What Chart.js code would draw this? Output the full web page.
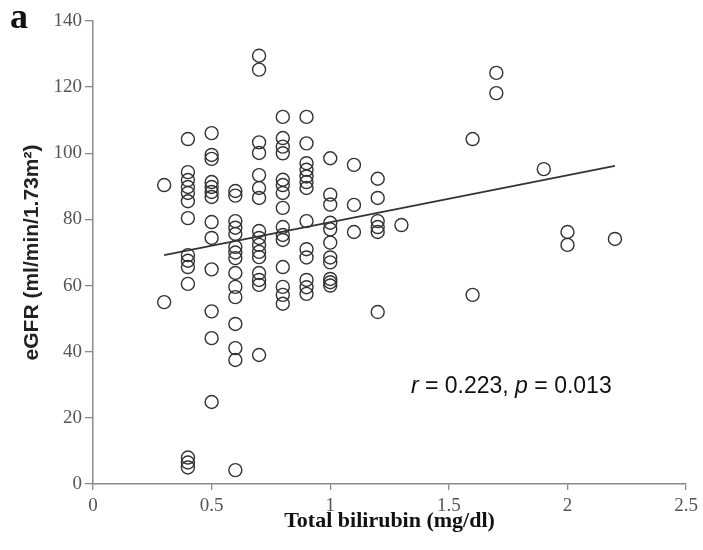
<!DOCTYPE html>
<html>
<head>
<meta charset="utf-8">
<script src="https://cdn.jsdelivr.net/npm/chart.js@4.4.1/dist/chart.umd.min.js"></script>
<style>
  html,body{margin:0;padding:0;background:#fff;}
  canvas{display:block;}
</style>
</head>
<body>
<canvas id="c" width="703" height="550"></canvas>
<script>
/* ===== data ===== */
const bilirubin=[
  0.3,0.3,
  0.4,0.4,0.4,0.4,0.4,0.4,0.4,0.4,0.4,0.4,0.4,0.4,0.4,0.4,
  0.5,0.5,0.5,0.5,0.5,0.5,0.5,0.5,0.5,0.5,0.5,0.5,0.5,
  0.6,0.6,0.6,0.6,0.6,0.6,0.6,0.6,0.6,0.6,0.6,0.6,0.6,0.6,0.6,
  0.7,0.7,0.7,0.7,0.7,0.7,0.7,0.7,0.7,0.7,0.7,0.7,0.7,0.7,0.7,0.7,
  0.8,0.8,0.8,0.8,0.8,0.8,0.8,0.8,0.8,0.8,0.8,0.8,0.8,0.8,0.8,
  0.9,0.9,0.9,0.9,0.9,0.9,0.9,0.9,0.9,0.9,0.9,0.9,0.9,
  1.0,1.0,1.0,1.0,1.0,1.0,1.0,1.0,1.0,1.0,1.0,
  1.1,1.1,1.1,
  1.2,1.2,1.2,1.2,1.2,1.2,
  1.3,
  1.6,1.6,
  1.7,1.7,
  1.9,
  2.0,2.0,
  2.2
];
const egfr=[
  90.4,55,
  104.3,94.3,91.9,89.8,88,85.5,80.4,69.2,67.5,65.6,60.5,8,6.5,5,
  106.1,99.5,98.3,91.3,89.8,88.3,86.8,79.2,74.4,64.9,52.2,44.1,24.8,
  88.6,87.2,79.5,77.5,75.6,71.7,70,68.3,63.8,59.6,56.5,48.4,41.1,37.5,4.2,
  129.5,125.3,103.3,100.1,93.4,89.5,86.5,76.5,74.4,72.3,70.2,68.6,63.8,61.7,60.2,39,
  111,104.6,102,100,92,90.4,88,83.5,77.7,75.3,73.8,65.6,59.6,57.2,54.5,
  111,103,97,95,93,91.3,89.5,79.5,71,68.5,61.7,59.5,57.5,
  98.5,87.5,84.5,79,77,73,68.5,67,62,61,60,
  96.5,84.4,76.2,
  92.3,86.5,79.5,77.7,76.2,52,
  78.3,
  104.3,57.2,
  124.3,118.2,
  95.2,
  76.2,72.3,
  74.1
];
const trendX=[0.3,2.2], trendY=[69.2,96.2];
const xTicks=[0,0.5,1,1.5,2,2.5];
const yTicks=[0,20,40,60,80,100,120,140];
const statPos={x:1.34,y:29.5};

/* ---------- 注記 ---------- */
const notes={id:'notes',afterDraw(c){
  const {ctx,scales:{x,y}}=c;
  ctx.save();
  // panel letter
  ctx.fillStyle='#111'; ctx.font='bold 36px "Liberation Serif"'; ctx.textBaseline='alphabetic';
  ctx.fillText('a',10,28);
  // r / p
  const parts=[['r',true],[' = 0.223, ',false],['p',true],[' = 0.013',false]];
  let px=x.getPixelForValue(statPos.x); const py=y.getPixelForValue(statPos.y);
  ctx.textBaseline='middle'; ctx.fillStyle='#111';
  parts.forEach(([t,it])=>{ctx.font=(it?'italic ':'')+'23px "Liberation Sans"';
    ctx.fillText(t,px,py); px+=ctx.measureText(t).width;});
  ctx.restore();
}};

new Chart(document.getElementById('c'),{
  data:{datasets:[
    {type:'scatter',data:bilirubin.map((v,i)=>({x:v,y:egfr[i]})),
     pointRadius:6.5,pointHoverRadius:6.5,pointBackgroundColor:'rgba(0,0,0,0)',
     pointBorderColor:'#333',pointBorderWidth:1.4},
    {type:'line',data:trendX.map((v,i)=>({x:v,y:trendY[i]})),
     borderColor:'#333',borderWidth:1.6,pointRadius:0,fill:false}
  ]},
  options:{
    responsive:false,animation:false,
    layout:{padding:{left:0,top:21,right:16,bottom:0}},
    plugins:{legend:{display:false},tooltip:{enabled:false}},
    scales:{
      x:{type:'linear',min:0,max:2.5,
         afterBuildTicks:s=>{s.ticks=xTicks.map(v=>({value:v}));},
         afterFit:s=>{s.height=66;},
         grid:{drawOnChartArea:false,drawTicks:true,tickLength:6,color:'#8a8a8a',lineWidth:1.3},
         border:{color:'#8a8a8a',width:1.5},
         ticks:{color:'#555',padding:5,font:{family:'"Liberation Serif"',size:19},callback:v=>String(v)},
         title:{display:true,text:'Total bilirubin (mg/dl)',color:'#111',
                font:{family:'"Liberation Serif"',size:22,weight:'bold'},padding:{top:0,bottom:15}}},
      y:{type:'linear',min:0,max:140,
         afterBuildTicks:s=>{s.ticks=yTicks.map(v=>({value:v}));},
         afterFit:s=>{s.width=93;},
         grid:{drawOnChartArea:false,drawTicks:true,tickLength:8,color:'#8a8a8a',lineWidth:1.3},
         border:{color:'#8a8a8a',width:1.5},
         ticks:{color:'#555',padding:3,font:{family:'"Liberation Serif"',size:19}},
         title:{display:true,text:'eGFR (ml/min/1.73m²)',color:'#222',
                font:{family:'"Liberation Sans"',size:21,weight:'bold'},padding:{top:20,bottom:0}}}
    }
  },
  plugins:[notes]
});
</script>
</body>
</html>
